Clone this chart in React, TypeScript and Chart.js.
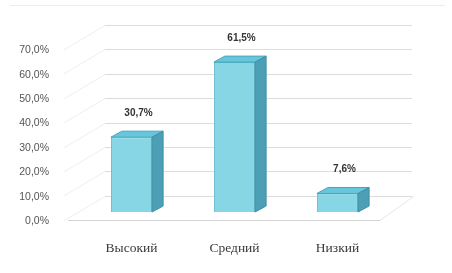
import React, { useEffect, useRef } from "react";
import { Chart, registerables } from "chart.js";

Chart.register(...registerables);

const categories = ["Высокий", "Средний", "Низкий"];
const values = [30.7, 61.5, 7.6];
const valueLabels = ["30,7%", "61,5%", "7,6%"];
const yMax = 80;
const yStep = 10;

const DX = 11;
const DY = -6;

const threeD = {
  id: "threeD",
  beforeDatasetsDraw(chart: any) {
    const ctx = chart.ctx;
    const y = chart.scales.y;
    ctx.save();
    ctx.lineWidth = 1;
    ctx.strokeStyle = "#ececec";
    ctx.beginPath();
    ctx.moveTo(10, 5.5);
    ctx.lineTo(445, 5.5);
    ctx.stroke();
    const step = y.getPixelForValue(0) - y.getPixelForValue(yStep);
    for (let v = yStep; v <= yMax; v += yStep) {
      const py = Math.round(y.getPixelForValue(v - yStep) + 8 - step) + 0.5;
      ctx.strokeStyle = "#dcdcdc";
      ctx.beginPath();
      ctx.moveTo(105, py);
      ctx.lineTo(412, py);
      ctx.stroke();
      ctx.strokeStyle = "#ededed";
      ctx.beginPath();
      ctx.moveTo(64, py + step);
      ctx.lineTo(105, py);
      ctx.stroke();
    }
    const fy = Math.round(y.getPixelForValue(0) + 8) + 0.5;
    ctx.strokeStyle = "#d4d4d4";
    ctx.beginPath();
    ctx.moveTo(68, fy);
    ctx.lineTo(380, fy);
    ctx.stroke();
    ctx.strokeStyle = "#e6e6e6";
    ctx.beginPath();
    ctx.moveTo(380, fy);
    ctx.lineTo(414, fy - step);
    ctx.stroke();
    ctx.restore();
  },
  afterDatasetsDraw(chart: any) {
    const ctx = chart.ctx;
    const meta = chart.getDatasetMeta(0);
    ctx.save();
    meta.data.forEach((bar: any, i: number) => {
      const { x, y, base, width } = bar.getProps(["x", "y", "base", "width"], true);
      const l = x - width / 2;
      const r = x + width / 2;
      ctx.fillStyle = "#66c6dc";
      ctx.strokeStyle = "#4aa6bd";
      ctx.lineWidth = 1;
      ctx.beginPath();
      ctx.moveTo(l, y);
      ctx.lineTo(l + DX, y + DY);
      ctx.lineTo(r + DX, y + DY);
      ctx.lineTo(r, y);
      ctx.closePath();
      ctx.fill();
      ctx.stroke();
      ctx.fillStyle = "#4c9fb5";
      ctx.beginPath();
      ctx.moveTo(r, y);
      ctx.lineTo(r + DX, y + DY);
      ctx.lineTo(r + DX, base + DY);
      ctx.lineTo(r, base);
      ctx.closePath();
      ctx.fill();
      ctx.strokeStyle = "#3f8ea4";
      ctx.stroke();
      ctx.fillStyle = "#333333";
      ctx.font = "bold 10px 'Liberation Sans', Arial, sans-serif";
      ctx.textAlign = "center";
      ctx.textBaseline = "middle";
      ctx.fillText(valueLabels[i], x + 7, y - 24);
    });
    ctx.restore();
  },
};

export default function App() {
  const ref = useRef<HTMLCanvasElement | null>(null);
  useEffect(() => {
    if (!ref.current) return;
    const chart = new Chart(ref.current, {
      type: "bar",
      data: {
        labels: categories,
        datasets: [
          {
            data: values,
            backgroundColor: "#86d6e6",
            borderColor: "#5fb6cb",
            borderWidth: 1,
            categoryPercentage: 1,
            barPercentage: 0.4,
          },
        ],
      },
      options: {
        animation: false,
        responsive: true,
        maintainAspectRatio: false,
        layout: { padding: { top: 17, right: 63, bottom: 0, left: 0 } },
        plugins: { legend: { display: false }, tooltip: { enabled: false } },
        scales: {
          x: {
            grid: { display: false },
            border: { display: false },
            ticks: {
              color: "#3a3a3a",
              font: { family: "'Liberation Serif', 'Times New Roman', serif", size: 13.5 },
              padding: 20,
            },
            afterFit: (s: any) => {
              s.height = 61;
              s.paddingLeft = 0;
              s.paddingRight = 0;
            },
          },
          y: {
            min: 0,
            max: yMax,
            grid: { display: false },
            border: { display: false },
            ticks: {
              stepSize: yStep,
              padding: 23,
              labelOffset: 9,
              color: "#555",
              font: { family: "'Liberation Sans', Arial, sans-serif", size: 10.5 },
              callback: (v: any) =>
                Number(v) >= yMax ? "" : Number(v).toFixed(1).replace(".", ",") + "%",
            },
            afterFit: (s: any) => {
              s.width = 80;
              s.paddingTop = 0;
              s.paddingBottom = 0;
            },
          },
        },
      },
      plugins: [threeD],
    });
    return () => chart.destroy();
  }, []);
  return (
    <div style={{ position: "fixed", left: 0, top: 0, width: 452, height: 273, background: "#fff" }}>
      <canvas ref={ref} />
    </div>
  );
}
